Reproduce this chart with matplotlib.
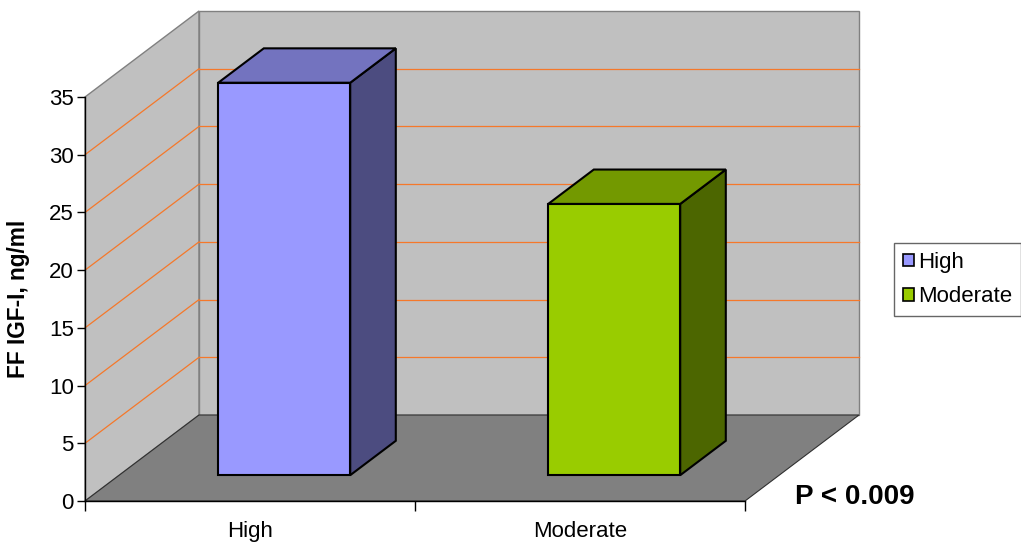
""" FF IGF-I by group, Excel-style 3D column chart """
import matplotlib.pyplot as plt
from matplotlib.patches import Polygon, Patch

categories = ['High', 'Moderate']
igf_values = [34.0, 23.5]
y_ticks = [0, 5, 10, 15, 20, 25, 30, 35]
front_colors = ['#9999ff', '#99cc00']
top_colors = ['#7373bf', '#739900']
side_colors = ['#4c4c80', '#4c6600']

plt.rcParams['font.family'] = ['Liberation Sans', 'DejaVu Sans']

W, H = 1021, 543
fig = plt.figure(figsize=(W / 100, H / 100), dpi=100)
ax = fig.add_axes([85 / W, (H - 501) / H, 660 / W, 404 / H])
n = len(categories)
ymax = y_ticks[-1]
ax.set_xlim(0, n)
ax.set_ylim(0, ymax)
ax.patch.set_visible(False)

# oblique offset of the full chart depth, in data units
DX = 114 / 330
DY = 86 * ymax / 404


def proj(x, y, d):
    return (x + d * DX, y + d * DY)


def face(pts, color, z, ec='#808080', lw=1.0):
    ax.add_patch(Polygon(pts, closed=True, fc=color, ec=ec, lw=lw, zorder=z,
                         clip_on=False, joinstyle='miter'))


# walls and floor
face([proj(0, 0, 0), proj(0, ymax, 0), proj(0, ymax, 1), proj(0, 0, 1)], '#c0c0c0', 0.5)
face([proj(0, 0, 1), proj(0, ymax, 1), proj(n, ymax, 1), proj(n, 0, 1)], '#c0c0c0', 0.5)
face([proj(0, 0, 0), proj(n, 0, 0), proj(n, 0, 1), proj(0, 0, 1)], '#808080', 0.6,
     ec='#303030', lw=0.8)

# gridlines on the left and back walls
for v in y_ticks[1:-1]:
    (x0, y0), (x1, y1) = proj(0, v, 0), proj(0, v, 1)
    ax.plot([x0, x1], [y0, y1], color='#f5782a', lw=0.9, zorder=0.7, clip_on=False)
    (x2, y2) = proj(n, v, 1)
    ax.plot([x1, x2], [y1, y2], color='#f5782a', lw=0.9, zorder=0.7, clip_on=False)

# bars
for i, val in enumerate(igf_values):
    xa, xb = i + 0.3, i + 0.7
    da, db = 0.3, 0.7
    face([proj(xb, 0, da), proj(xb, val, da), proj(xb, val, db), proj(xb, 0, db)],
         side_colors[i], 3, ec='black', lw=1.5)
    face([proj(xa, val, da), proj(xb, val, da), proj(xb, val, db), proj(xa, val, db)],
         top_colors[i], 3, ec='black', lw=1.5)
    face([proj(xa, 0, da), proj(xa, val, da), proj(xb, val, da), proj(xb, 0, da)],
         front_colors[i], 3.1, ec='black', lw=1.5)

# axes
for s in ['top', 'right']:
    ax.spines[s].set_visible(False)
ax.spines['left'].set_linewidth(1.0)
ax.spines['bottom'].set_linewidth(1.0)
ax.set_yticks(y_ticks)
ax.tick_params(axis='y', length=6, width=1, labelsize=16, pad=2)
ax.set_xticks(range(n + 1))
ax.set_xticklabels([])
ax.tick_params(axis='x', which='major', length=7, width=1)
ax.set_xticks([i + 0.5 for i in range(n)], minor=True)
ax.set_xticklabels(categories, minor=True)
ax.tick_params(axis='x', which='minor', length=0, labelsize=16, pad=14.5)

ax.set_ylabel('FF IGF-I, ng/ml', fontsize=16.3, fontweight='bold')
ax.yaxis.set_label_coords(-(85 - 30) / 660, (501 - 299) / 404)

fig.text(855 / W, (H - 504) / H, 'P < 0.009', fontsize=20, fontweight='bold',
         ha='center', va='baseline')

handles = [Patch(fc=c, ec='black', lw=1.2) for c in front_colors]
fig.legend(handles, categories, loc='upper left', bbox_to_anchor=(894 / W, 1 - 243 / H),
           fontsize=16, frameon=True, fancybox=False, edgecolor='#404040',
           handlelength=0.5, handleheight=0.5, handletextpad=0.2,
           labelspacing=0.6, borderpad=0.4, borderaxespad=0)

fig.savefig('out.png', dpi=100)
plt.close()
